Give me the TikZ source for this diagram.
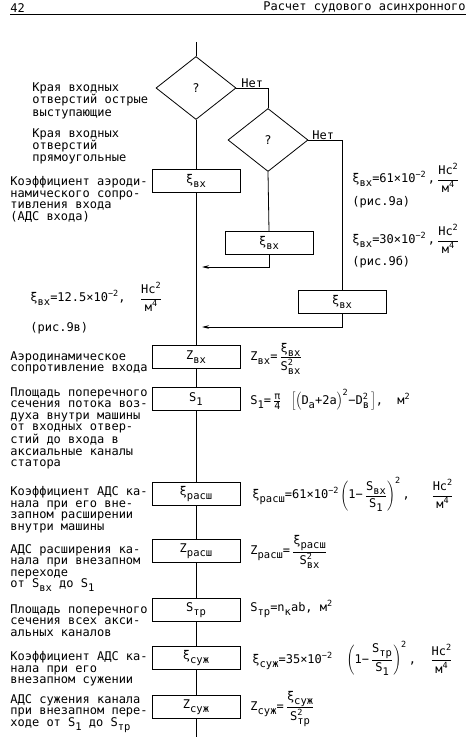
\documentclass[tikz,border=0pt]{standalone}
\usepackage{fontspec}
\setmainfont{DejaVu Sans Mono}
\usetikzlibrary{shapes.geometric,arrows.meta}
\newcommand\xlo[1]{\raisebox{-4pt}{\fontsize{10.5}{10.5}\selectfont #1}}
\newcommand\xhi[1]{\raisebox{5pt}{\fontsize{8.5}{8.5}\selectfont #1}}
\newcommand\xboth[2]{\makebox[0pt][l]{\raisebox{5.5pt}{\fontsize{8.5}{8.5}\selectfont #1}}\raisebox{-4pt}{\fontsize{10.5}{10.5}\selectfont #2}}
\newcommand\xfr[2]{$\displaystyle\frac{\hbox{#1\rule[-3pt]{0pt}{11pt}}}{\hbox{\rule[-6pt]{0pt}{14pt}#2}}$}
\newcommand\xunit{\xfr{Нс\xhi{2}}{м\xhi{4}}}
\begin{document}
\begin{tikzpicture}[x=1pt,y=-1pt,line width=0.8pt,
  every node/.style={font=\fontsize{12}{11.5}\selectfont, inner sep=0pt},
  blk/.style={draw, rectangle, minimum width=88pt, minimum height=23pt},
  dec/.style={draw, diamond, minimum width=80pt, minimum height=63pt},
  txt/.style={anchor=north west, align=left},
  frm/.style={anchor=west},
  arr/.style={-{Stealth[length=7pt,width=3.5pt]}}]
\useasboundingbox (0,0) rectangle (474,751);
% header
\node[anchor=west] (pg) at (10,8) {42};
\node[anchor=east] (hd) at (466,7) {Расчет судового асинхронного};
\coordinate (hl) at (10,14);
\coordinate (hr) at (466,14);
\draw (hl) -- (hr);
% flow
\coordinate (top) at (196,42);
\node[dec] (d1) at (196,88) {?};
\node[dec] (d2) at (268,140) {?};
\node[blk] (b1) at (196,181) {ξ\xlo{вх}};
\node[blk] (b2) at (269,243) {ξ\xlo{вх}};
\node[blk] (b3) at (342,302) {ξ\xlo{вх}};
\node[blk] (bz) at (196,357) {Z\xlo{вх}};
\node[blk] (bs1) at (196,399) {S\xlo{1}};
\node[blk] (bxr) at (196,494) {ξ\xlo{расш}};
\node[blk] (bzr) at (196,551) {Z\xlo{расш}};
\node[blk] (bst) at (196,610) {S\xlo{тр}};
\node[blk] (bxs) at (196,658) {ξ\xlo{суж}};
\node[blk] (bzs) at (196,707) {Z\xlo{суж}};
\coordinate (bot) at (196,737);
\coordinate (j1) at (202,267);
\coordinate (j2) at (202,327);
\draw (top) -- (d1.north);
\draw (d1.south) -- (b1.north);
\draw (b1.south) -- (bz.north);
\draw (d1.east) -| node[pos=0.25, above=0pt] (n1) {Нет} (d2.north);
\draw (d2.east) -| node[pos=0.22, above=0pt] (n2) {Нет} (b3.north);
\draw (d2.south) -- (b2.north);
\draw[arr] (b2.south) |- (j1);
\draw[arr] (b3.south) |- (j2);
\draw (bz) -- (bs1);
\draw (bs1) -- (bxr);
\draw (bxr) -- (bzr);
\draw (bzr) -- (bst);
\draw (bst) -- (bxs);
\draw (bxs) -- (bzs);
\draw (bzs) -- (bot);
% left texts
\node[txt, font=\fontsize{12}{12.5}\selectfont] (t1) at (32,82) {Края входных\\отверстий острые\\выступающие};
\node[txt, font=\fontsize{12}{12}\selectfont] (t2) at (32,128) {Края входных\\отверстий\\прямоугольные};
\node[txt] (t3) at (10,176) {Коэффициент аэроди-\\намического сопро-\\тивления входа\\(АДС входа)};
\node[frm] (t4) at (30,300) {ξ\xlo{вх}=12.5×10\xhi{−2},\ \ \xunit};
\node[frm] (t4b) at (30,328) {(рис.9в)};
\node[txt] (t5) at (10,351) {Аэродинамическое\\сопротивление входа};
\node[txt] (t6) at (10,387) {Площадь поперечного\\сечения потока воз-\\духа внутри машины\\от входных отвер-\\стий до входа в\\аксиальные каналы\\статора};
\node[txt] (t7) at (10,486) {Коэффициент АДС ка-\\нала при его вне-\\запном расширении\\внутри машины};
\node[txt] (t8) at (10,544) {АДС расширения ка-\\нала при внезапном\\переходе\\от S\xlo{вх} до S\xlo{1}};
\node[txt] (t9) at (10,604) {Площадь поперечного\\сечения всех акси-\\альных каналов};
\node[txt] (t10) at (10,651) {Коэффициент АДС ка-\\нала при его\\внезапном сужении};
\node[txt] (t11) at (10,694) {АДС сужения канала\\при внезапном пере-\\ходе от S\xlo{1} до S\xlo{тр}};
% right texts
\node[frm] (r1) at (352,181) {ξ\xlo{вх}=61×10\xhi{−2}\,,\,\xunit};
\node[frm] (r1b) at (352,202) {(рис.9а)};
\node[frm] (r2) at (352,242) {ξ\xlo{вх}=30×10\xhi{−2}\,,\,\xunit};
\node[frm] (r2b) at (352,262) {(рис.9б)};
\node[frm] (fz) at (250,360) {Z\xlo{вх}=\,\xfr{ξ\xlo{вх}}{S\xboth{2}{вх}}};
\node[frm] (fs1) at (250,400) {S\xlo{1}=\,$\frac{\hbox{\fontsize{10}{10}\selectfont π}}{\hbox{\fontsize{10}{10}\selectfont 4}}$\ \,$\Bigl[\Bigl(\hbox{D\xlo{а}+2a}\Bigr)^{\hbox{\fontsize{8.5}{8.5}\selectfont 2}}\hbox{−D\xboth{2}{в}\,}\Bigr]$, \ м\xhi{2}};
\node[frm] (fxr) at (252,496) {ξ\xlo{расш}=61×10\xhi{−2}\,$\displaystyle\left(\hbox{1−\,}\frac{\hbox{S\xlo{вх}}}{\hbox{S\xlo{1}}}\right)^{\hbox{\fontsize{8.5}{8.5}\selectfont 2}}$\,,\ \ \ \xunit};
\node[frm] (fzr) at (250,553) {Z\xlo{расш}=\,\xfr{ξ\xlo{расш}}{S\xboth{2}{вх}}};
\node[frm] (fst) at (250,609) {S\xlo{тр}=n\xlo{к}ab, м\xhi{2}};
\node[frm] (fxs) at (252,660) {ξ\xlo{суж}=35×10\xhi{−2}\ \ $\displaystyle\left(\hbox{1−\,}\frac{\hbox{S\xlo{тр}}}{\hbox{S\xlo{1}}}\right)^{\hbox{\fontsize{8.5}{8.5}\selectfont 2}}$\,,\ \ \xunit};
\node[frm] (fzs) at (250,709) {Z\xlo{суж}=\,\xfr{ξ\xlo{суж}}{S\xboth{2}{тр}}};
\end{tikzpicture}
\end{document}
